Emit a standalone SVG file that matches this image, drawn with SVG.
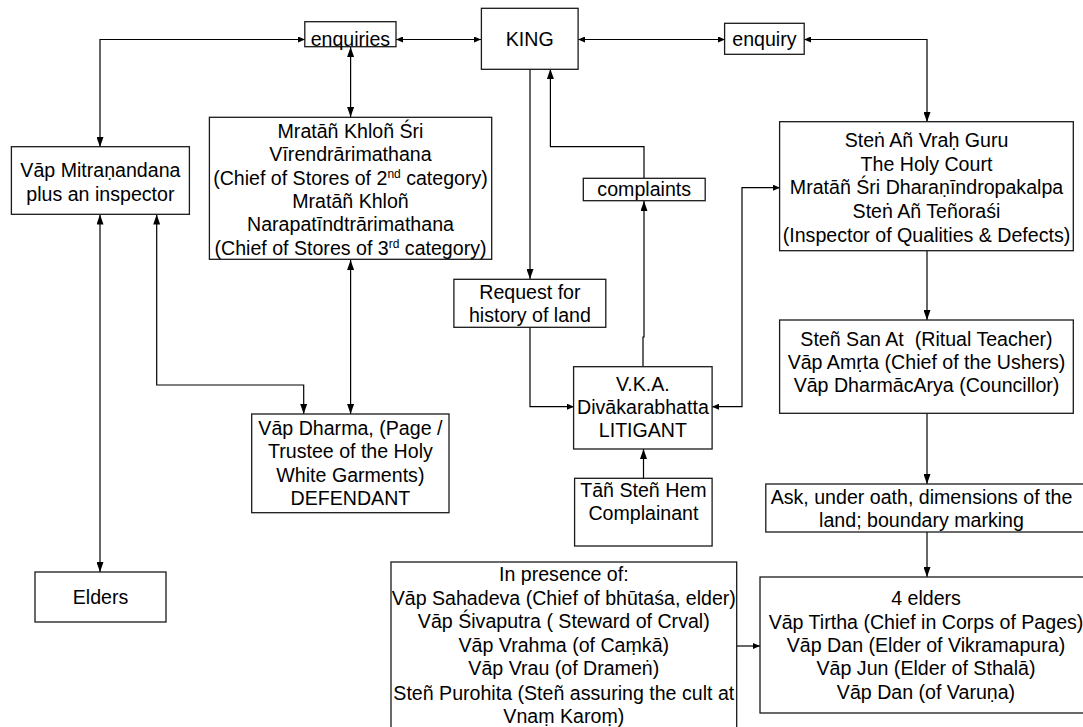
<svg xmlns="http://www.w3.org/2000/svg" width="1083" height="727" viewBox="0 0 1083 727">
<style>
.box{fill:#fff;stroke:#1a1a1a;stroke-width:1.3}
.t{font-family:"Liberation Sans",Arial,sans-serif;font-size:19.6px;fill:#000;text-anchor:middle}
.sup{font-size:12px}
.ln{fill:none;stroke:#000;stroke-width:1.2}
</style>
<defs>
<marker id="a" viewBox="0 0 10 7" refX="10" refY="3.5" markerWidth="10" markerHeight="7" markerUnits="userSpaceOnUse" orient="auto-start-reverse"><path d="M0,0 L10,3.5 L0,7 z" fill="#000"/></marker>
<marker id="s" viewBox="0 0 7 6" refX="7" refY="3" markerWidth="7" markerHeight="6" markerUnits="userSpaceOnUse" orient="auto-start-reverse"><path d="M0,0 L7,3 L0,6 z" fill="#000"/></marker>
</defs>
<rect width="1083" height="727" fill="#fff"/>

<g id="connectors">
<path class="ln" d="M305,39.5 H100 V147" marker-start="url(#s)" marker-end="url(#a)"/>
<path class="ln" d="M396,39.5 H481" marker-start="url(#s)" marker-end="url(#s)"/>
<path class="ln" d="M350.6,47 V117" marker-start="url(#a)" marker-end="url(#a)"/>
<path class="ln" d="M578,39.5 H725" marker-start="url(#s)" marker-end="url(#s)"/>
<path class="ln" d="M804,39.5 H927 V122" marker-start="url(#s)" marker-end="url(#a)"/>
<path class="ln" d="M530,69 V279" marker-end="url(#a)"/>
<path class="ln" d="M530,327 V406.7 H574" marker-end="url(#s)"/>
<path class="ln" d="M643,367 V337 H644 V201" marker-end="url(#a)"/>
<path class="ln" d="M644,178 V146.7 H550.4 V69" marker-end="url(#a)"/>
<path class="ln" d="M712,406.7 H742 V187.7 H780" marker-start="url(#s)" marker-end="url(#s)"/>
<path class="ln" d="M643.5,478 V449" marker-end="url(#a)"/>
<path class="ln" d="M350.6,260 V414" marker-start="url(#a)" marker-end="url(#a)"/>
<path class="ln" d="M156.7,214.5 V385 H303.7 V414" marker-start="url(#a)" marker-end="url(#a)"/>
<path class="ln" d="M100,214.5 V572" marker-start="url(#a)" marker-end="url(#a)"/>
<path class="ln" d="M927,251 V320" marker-end="url(#a)"/>
<path class="ln" d="M927,413.5 V484" marker-end="url(#a)"/>
<path class="ln" d="M927,532 V577" marker-end="url(#a)"/>
<path class="ln" d="M737,646 H760" marker-end="url(#s)"/>
</g>

<g id="king"><rect class="box" x="481.4" y="8.3" width="96.7" height="61"/><text class="t" x="529.7" y="46">KING</text></g>

<g id="enquiries"><rect class="box" x="304.8" y="21.7" width="91.2" height="25"/><text class="t" x="350.4" y="46">enquiries</text></g>

<g id="enquiry"><rect class="box" x="724.6" y="23.3" width="79.6" height="31"/><text class="t" x="764.4" y="46">enquiry</text></g>

<g id="mitranandana"><rect class="box" x="11.4" y="146.7" width="178" height="67.6"/>
<text class="t" x="100.4" y="177">Vāp Mitraṇandana</text>
<text class="t" x="100.4" y="200.5">plus an inspector</text></g>

<g id="stores"><rect class="box" x="209.4" y="117.3" width="282.3" height="142"/>
<text class="t" x="350.5" y="138">Mratāñ Khloñ Śri</text>
<text class="t" x="350.5" y="161.3">Vīrendrārimathana</text>
<text class="t" x="350.5" y="184.6">(Chief of Stores of 2<tspan class="sup" dy="-7">nd</tspan><tspan dy="7"> category)</tspan></text>
<text class="t" x="350.5" y="207.9">Mratāñ Khloñ</text>
<text class="t" x="350.5" y="231.2">Narapatīndtrārimathana</text>
<text class="t" x="350.5" y="254.5">(Chief of Stores of 3<tspan class="sup" dy="-7">rd</tspan><tspan dy="7"> category)</tspan></text></g>

<g id="guru"><rect class="box" x="779.6" y="121.7" width="293.7" height="129"/>
<text class="t" x="926.5" y="147">Steṅ Añ Vraḥ Guru</text>
<text class="t" x="926.5" y="170.5">The Holy Court</text>
<text class="t" x="926.5" y="194.3">Mratāñ Śri Dharaṇīndropakalpa</text>
<text class="t" x="926.5" y="218">Steṅ Añ Teñoraśi</text>
<text class="t" x="926.5" y="241.7">(Inspector of Qualities &amp; Defects)</text></g>

<g id="complaints"><rect class="box" x="583.3" y="178.3" width="121.9" height="22.4"/><text class="t" x="644.2" y="196">complaints</text></g>

<g id="request"><rect class="box" x="453.9" y="279.3" width="151.9" height="48"/>
<text class="t" x="529.9" y="298.5">Request for</text>
<text class="t" x="529.9" y="322">history of land</text></g>

<g id="litigant"><rect class="box" x="573.6" y="366.7" width="138.5" height="82.3"/>
<text class="t" x="642.9" y="390.5">V.K.A.</text>
<text class="t" x="642.9" y="413.7">Divākarabhatta</text>
<text class="t" x="642.9" y="437">LITIGANT</text></g>

<g id="complainant"><rect class="box" x="574.6" y="478.3" width="137.5" height="67.7"/>
<text class="t" x="643.4" y="497">Tāñ Steñ Hem</text>
<text class="t" x="643.4" y="519.5">Complainant</text></g>

<g id="defendant"><rect class="box" x="251.7" y="414" width="197.3" height="98.7"/>
<text class="t" x="350.4" y="434.5">Vāp Dharma, (Page /</text>
<text class="t" x="350.4" y="458.3">Trustee of the Holy</text>
<text class="t" x="350.4" y="481.6">White Garments)</text>
<text class="t" x="350.4" y="505.3">DEFENDANT</text></g>

<g id="sanat"><rect class="box" x="779.6" y="320" width="293.7" height="93.3"/>
<text class="t" x="926.5" y="345.5" xml:space="preserve">Steñ San At  (Ritual Teacher)</text>
<text class="t" x="926.5" y="369">Vāp Amṛta (Chief of the Ushers)</text>
<text class="t" x="926.5" y="392.3">Vāp DharmācArya (Councillor)</text></g>

<g id="ask"><rect class="box" x="765.8" y="484" width="330" height="48"/>
<text class="t" x="921.5" y="503.5">Ask, under oath, dimensions of the</text>
<text class="t" x="921.5" y="527">land; boundary marking</text></g>

<g id="fourelders"><rect class="box" x="760" y="577" width="340" height="136"/>
<text class="t" x="926" y="605">4 elders</text>
<text class="t" x="926" y="628.5">Vāp Tirtha (Chief in Corps of Pages)</text>
<text class="t" x="926" y="651.8">Vāp Dan (Elder of Vikramapura)</text>
<text class="t" x="926" y="675.2">Vāp Jun (Elder of Sthalā)</text>
<text class="t" x="926" y="698.5">Vāp Dan (of Varuṇa)</text></g>

<g id="presence"><rect class="box" x="391" y="562" width="345.7" height="180"/>
<text class="t" x="563.8" y="580.5">In presence of:</text>
<text class="t" x="563.8" y="604.5">Vāp Sahadeva (Chief of bhūtaśa, elder)</text>
<text class="t" x="563.8" y="628">Vāp Śivaputra ( Steward of Crval)</text>
<text class="t" x="563.8" y="651.5">Vāp Vrahma (of Caṃkā)</text>
<text class="t" x="563.8" y="675">Vāp Vrau (of Drameṅ)</text>
<text class="t" x="563.8" y="699.5">Steñ Purohita (Steñ assuring the cult at</text>
<text class="t" x="563.8" y="723">Vnaṃ Karoṃ)</text></g>

<g id="elders"><rect class="box" x="35" y="572" width="131" height="50"/><text class="t" x="100.5" y="603.5">Elders</text></g>
</svg>
